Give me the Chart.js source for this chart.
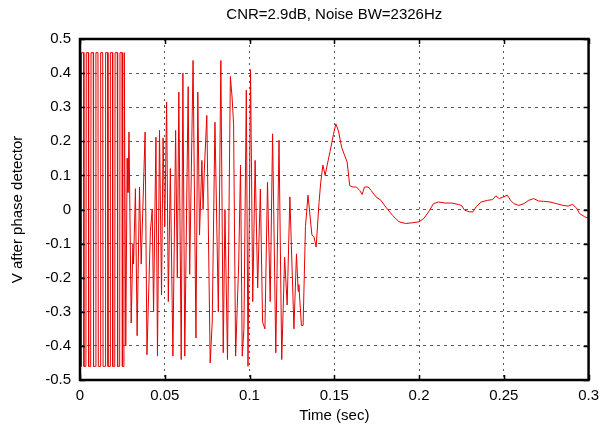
<!DOCTYPE html>
<html>
<head>
<meta charset="utf-8">
<script src="https://cdn.jsdelivr.net/npm/chart.js@4"></script>
<style>
  body { margin: 0; background: #fff; }
</style>
</head>
<body>
<canvas id="my-chart" width="606" height="428"></canvas>
<script>
// time axis (sec) and detector output (V)
const timeSec = [
  0.0000, 0.0007, 0.0009, 0.0021, 0.0023, 0.0035, 0.0037, 0.0049, 0.0051, 0.0063,
  0.0065, 0.0078, 0.0080, 0.0092, 0.0094, 0.0106, 0.0108, 0.0120, 0.0122, 0.0134,
  0.0136, 0.0149, 0.0151, 0.0163, 0.0165, 0.0177, 0.0179, 0.0191, 0.0193, 0.0205,
  0.0207, 0.0220, 0.0222, 0.0234, 0.0236, 0.0248, 0.0250, 0.0259, 0.0261, 0.0264,
  0.0270, 0.0278, 0.0283, 0.0289, 0.0302, 0.0312, 0.0316, 0.0327, 0.0337, 0.0351,
  0.0361, 0.0384, 0.0395, 0.0415, 0.0426, 0.0434, 0.0448, 0.0457, 0.0469, 0.0481,
  0.0490, 0.0500, 0.0511, 0.0521, 0.0533, 0.0548, 0.0564, 0.0574, 0.0583, 0.0597,
  0.0607, 0.0618, 0.0638, 0.0647, 0.0667, 0.0684, 0.0695, 0.0705, 0.0719, 0.0726,
  0.0733, 0.0748, 0.0768, 0.0780, 0.0796, 0.0816, 0.0831, 0.0845, 0.0855, 0.0870,
  0.0887, 0.0897, 0.0906, 0.0918, 0.0936, 0.0947, 0.0957, 0.0967, 0.0981, 0.0991,
  0.1006, 0.1019, 0.1033, 0.1048, 0.1064, 0.1077, 0.1091, 0.1106, 0.1122, 0.1136,
  0.1155, 0.1174, 0.1190, 0.1207, 0.1222, 0.1238, 0.1262, 0.1277, 0.1287, 0.1291,
  0.1306, 0.1316, 0.1330, 0.1345, 0.1368, 0.1380, 0.1393, 0.1410, 0.1420, 0.1433,
  0.1446, 0.1458, 0.1475, 0.1495, 0.1509, 0.1525, 0.1543, 0.1560, 0.1576, 0.1591,
  0.1610, 0.1630, 0.1650, 0.1664, 0.1678, 0.1700, 0.1717, 0.1746, 0.1775, 0.1804,
  0.1843, 0.1882, 0.1920, 0.1960, 0.2000, 0.2029, 0.2056, 0.2085, 0.2114, 0.2153,
  0.2192, 0.2231, 0.2250, 0.2269, 0.2298, 0.2318, 0.2337, 0.2366, 0.2405, 0.2434,
  0.2453, 0.2473, 0.2498, 0.2521, 0.2540, 0.2560, 0.2589, 0.2618, 0.2647, 0.2676,
  0.2705, 0.2734, 0.2773, 0.2812, 0.2850, 0.2880, 0.2905, 0.2928, 0.2947, 0.2976,
  0.3000
];
const volts = [
  -0.46, -0.46, 0.46, 0.46, -0.46, -0.46, 0.46, 0.46, -0.46, -0.46,
  0.46, 0.46, -0.46, -0.46, 0.46, 0.46, -0.46, -0.46, 0.46, 0.46,
  -0.46, -0.46, 0.46, 0.46, -0.46, -0.46, 0.46, 0.46, -0.46, -0.46,
  0.46, 0.46, -0.46, -0.46, 0.46, 0.46, -0.46, -0.46, 0.46, 0.46,
  -0.40, 0.15, 0.05, 0.227, -0.333, -0.10, -0.16, 0.061, -0.37, 0.066,
  -0.16, 0.227, -0.426, -0.065, 0.0, -0.30, 0.212, -0.43, 0.232, -0.25,
  0.21, -0.05, 0.315, -0.27, 0.12, -0.43, 0.232, -0.20, 0.344, -0.44,
  0.40, -0.43, 0.36, -0.19, 0.437, -0.377, 0.344, -0.075, 0.144, 0.0,
  0.11, 0.276, -0.45, -0.33, 0.256, -0.30, 0.437, -0.42, 0.0, -0.44,
  0.39, 0.33, 0.25, -0.43, -0.16, 0.13, -0.43, -0.35, 0.35, -0.46,
  0.41, -0.27, 0.144, -0.23, 0.06, -0.33, -0.35, 0.08, -0.27, 0.222,
  -0.42, 0.203, -0.44, -0.14, -0.28, 0.037, -0.35, -0.13, -0.24, -0.22,
  -0.34, -0.34, -0.05, 0.042, -0.075, -0.08, -0.11, 0.02, 0.08, 0.13,
  0.10, 0.13, 0.17, 0.22, 0.251, 0.23, 0.183, 0.16, 0.139, 0.07,
  0.066, 0.066, 0.056, 0.044, 0.066, 0.066, 0.056, 0.037, 0.027, 0.007,
  -0.017, -0.036, -0.041, -0.039, -0.036, -0.026, -0.007, 0.017, 0.022, 0.019,
  0.019, 0.015, 0.012, -0.002, -0.007, -0.007, 0.008, 0.022, 0.027, 0.029,
  0.04, 0.032, 0.037, 0.042, 0.027, 0.017, 0.012, 0.017, 0.027, 0.032,
  0.025, 0.024, 0.022, 0.017, 0.012, 0.01, 0.015, 0.005, -0.012, -0.021,
  -0.026
];

const xTickValues = [0, 0.05, 0.1, 0.15, 0.2, 0.25, 0.3];
const xTickLabels = ['0', '0.05', '0.1', '0.15', '0.2', '0.25', '0.3'];
const yTickValues = [-0.5, -0.4, -0.3, -0.2, -0.1, 0, 0.1, 0.2, 0.3, 0.4, 0.5];
const yTickLabels = ['-0.5', '-0.4', '-0.3', '-0.2', '-0.1', '0', '0.1', '0.2', '0.3', '0.4', '0.5'];

const chartTitle = 'CNR=2.9dB, Noise BW=2326Hz';
const xTitle = 'Time (sec)';
const yTitle = 'V after phase detector';

const font = { family: "'Liberation Sans', Arial, sans-serif", size: 15 };

// black box round the plot with short inward ticks, gnuplot style
const framePlugin = {
  id: 'frame',
  afterDatasetsDraw(chart) {
    const { ctx, chartArea: a, scales: { x, y } } = chart;
    ctx.save();
    ctx.strokeStyle = '#000';
    ctx.lineWidth = 1.5;
    ctx.beginPath();
    x.ticks.forEach(t => {
      const px = Math.round(x.getPixelForValue(t.value)) + 0.5;
      ctx.moveTo(px, a.bottom); ctx.lineTo(px, a.bottom - 5);
      ctx.moveTo(px, a.top); ctx.lineTo(px, a.top + 5);
    });
    y.ticks.forEach(t => {
      const py = Math.round(y.getPixelForValue(t.value)) + 0.5;
      ctx.moveTo(a.left, py); ctx.lineTo(a.left + 5, py);
      ctx.moveTo(a.right, py); ctx.lineTo(a.right - 5, py);
    });
    ctx.stroke();
    ctx.lineWidth = 2.5;
    ctx.strokeRect(a.left, a.top, a.right - a.left, a.bottom - a.top);
    ctx.restore();
  }
};

const ctx = document.getElementById('my-chart').getContext('2d');
const chart = new Chart(ctx, {
  type: 'line',
  data: {
    datasets: [{
      data: timeSec.map((t, i) => ({ x: t, y: volts[i] })),
      borderColor: 'rgb(232, 0, 0)',
      borderWidth: 1,
      pointRadius: 0,
      tension: 0,
      fill: false
    }]
  },
  options: {
    responsive: false,
    animation: false,
    layout: { padding: { left: 0, right: 11, top: 0, bottom: 0 } },
    plugins: {
      legend: { display: false },
      tooltip: { enabled: false },
      title: {
        display: true,
        text: chartTitle,
        fullSize: false,
        color: '#000',
        font: { ...font, weight: 'normal' },
        padding: { top: 6, bottom: 15 }
      }
    },
    scales: {
      x: {
        type: 'linear',
        min: 0,
        max: 0.3,
        afterBuildTicks: axis => { axis.ticks = xTickValues.map(v => ({ value: v })); },
        afterFit: axis => { axis.height = 48; },
        ticks: {
          color: '#000',
          font: font,
          padding: 7,
          maxRotation: 0,
          callback: (v, i) => xTickLabels[i]
        },
        grid: { color: 'rgba(0,0,0,0.65)', lineWidth: 1, drawTicks: false },
        border: { display: false, dash: [2, 4] },
        title: { display: true, text: xTitle, color: '#000', font: font, padding: { top: 0, bottom: 3 } }
      },
      y: {
        min: -0.5,
        max: 0.5,
        afterBuildTicks: axis => { axis.ticks = yTickValues.map(v => ({ value: v })); },
        afterFit: axis => { axis.width = 80; },
        ticks: {
          color: '#000',
          font: font,
          padding: 9,
          callback: (v, i) => yTickLabels[i]
        },
        grid: { color: 'rgba(0,0,0,0.65)', lineWidth: 1, drawTicks: false },
        border: { display: false, dash: [3, 4] },
        title: { display: true, text: yTitle, color: '#000', font: font, padding: { top: 9, bottom: 0 } }
      }
    }
  },
  plugins: [framePlugin]
});
</script>
</body>
</html>
